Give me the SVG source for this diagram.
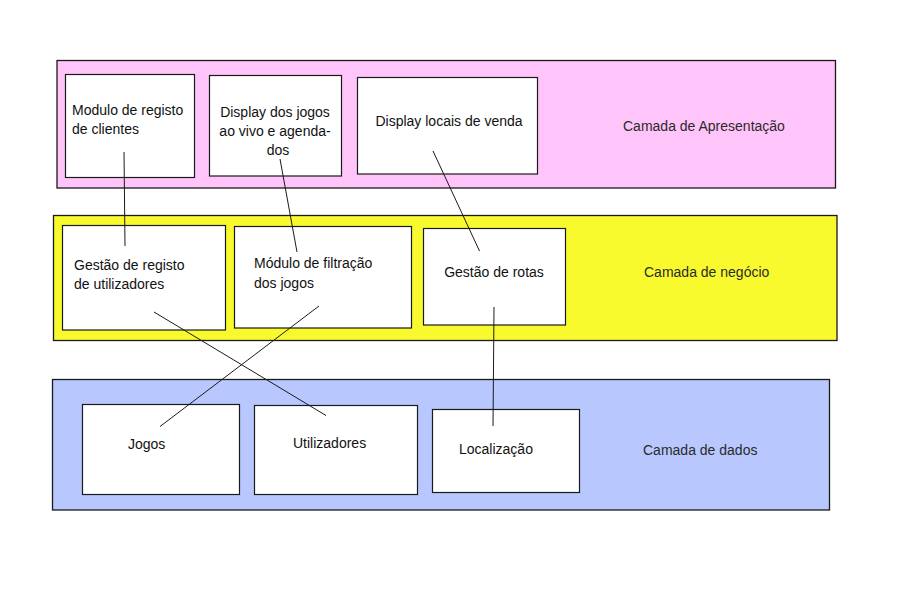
<svg xmlns="http://www.w3.org/2000/svg" width="900" height="600" viewBox="0 0 900 600">
<style>
  .layer { stroke: #1a1a1a; stroke-width: 1.3; }
  .pink { fill: #FFC4F9; }
  .yellow { fill: #F8FA2E; }
  .blue { fill: #B8C8FE; }
  .node { fill: #ffffff; stroke: #1a1a1a; stroke-width: 1.2; }
  .t { font-family: "Liberation Sans", Arial, sans-serif; font-size: 14px; fill: #111; }
  .c { text-anchor: middle; }
  .lbl { font-family: "Liberation Sans", Arial, sans-serif; font-size: 14px; fill: #2a2a2a; }
  .conn { stroke: #1a1a1a; stroke-width: 1; fill: none; }
</style>
<rect width="900" height="600" fill="#ffffff"/>

<g id="layer-apresentacao">
  <rect class="layer pink" x="57" y="60.5" width="778.5" height="127.5"/>
  <text class="lbl" x="623" y="131">Camada de Apresentação</text>
</g>
<g id="layer-negocio">
  <rect class="layer yellow" x="53.5" y="215.5" width="783.5" height="125"/>
  <text class="lbl" x="644" y="277">Camada de negócio</text>
</g>
<g id="layer-dados">
  <rect class="layer blue" x="52.5" y="379.5" width="777" height="130.5"/>
  <text class="lbl" x="643" y="455">Camada de dados</text>
</g>

<g id="node-modulo-registo">
  <rect class="node" x="65.5" y="74.5" width="129" height="103"/>
  <text class="t" x="72" y="115">Modulo de registo</text>
  <text class="t" x="72" y="134">de clientes</text>
</g>
<g id="node-display-jogos">
  <rect class="node" x="209.5" y="75.5" width="132" height="100.5"/>
  <text class="t c" x="275" y="117">Display dos jogos</text>
  <text class="t c" x="275" y="136">ao vivo e agenda-</text>
  <text class="t c" x="278" y="155">dos</text>
</g>
<g id="node-display-locais">
  <rect class="node" x="357.5" y="77.5" width="180" height="96.5"/>
  <text class="t c" x="449" y="126">Display locais de venda</text>
</g>

<g id="node-gestao-registo">
  <rect class="node" x="62.5" y="225.5" width="163" height="104.5"/>
  <text class="t" x="74" y="269.5">Gestão de registo</text>
  <text class="t" x="74" y="289">de utilizadores</text>
</g>
<g id="node-modulo-filtracao">
  <rect class="node" x="234.5" y="226.5" width="177" height="101.5"/>
  <text class="t" x="254" y="267.5">Módulo de filtração</text>
  <text class="t" x="254" y="287.5">dos jogos</text>
</g>
<g id="node-gestao-rotas">
  <rect class="node" x="423.5" y="228.5" width="142" height="96.5"/>
  <text class="t c" x="494" y="277">Gestão de rotas</text>
</g>

<g id="node-jogos">
  <rect class="node" x="82.5" y="404.5" width="157" height="90"/>
  <text class="t" x="128" y="449">Jogos</text>
</g>
<g id="node-utilizadores">
  <rect class="node" x="254.5" y="405.5" width="163" height="89"/>
  <text class="t" x="293" y="447.5">Utilizadores</text>
</g>
<g id="node-localizacao">
  <rect class="node" x="432.5" y="409.5" width="147" height="83"/>
  <text class="t" x="459" y="453.5">Localização</text>
</g>

<g id="connectors">
  <line class="conn" x1="124" y1="152" x2="125" y2="246"/>
  <line class="conn" x1="280" y1="159" x2="297" y2="252"/>
  <line class="conn" x1="433" y1="151" x2="479.5" y2="251"/>
  <line class="conn" x1="494" y1="307" x2="493" y2="426"/>
  <line class="conn" x1="154" y1="312" x2="326" y2="415.5"/>
  <line class="conn" x1="319" y1="306" x2="160" y2="426.5"/>
</g>
</svg>
